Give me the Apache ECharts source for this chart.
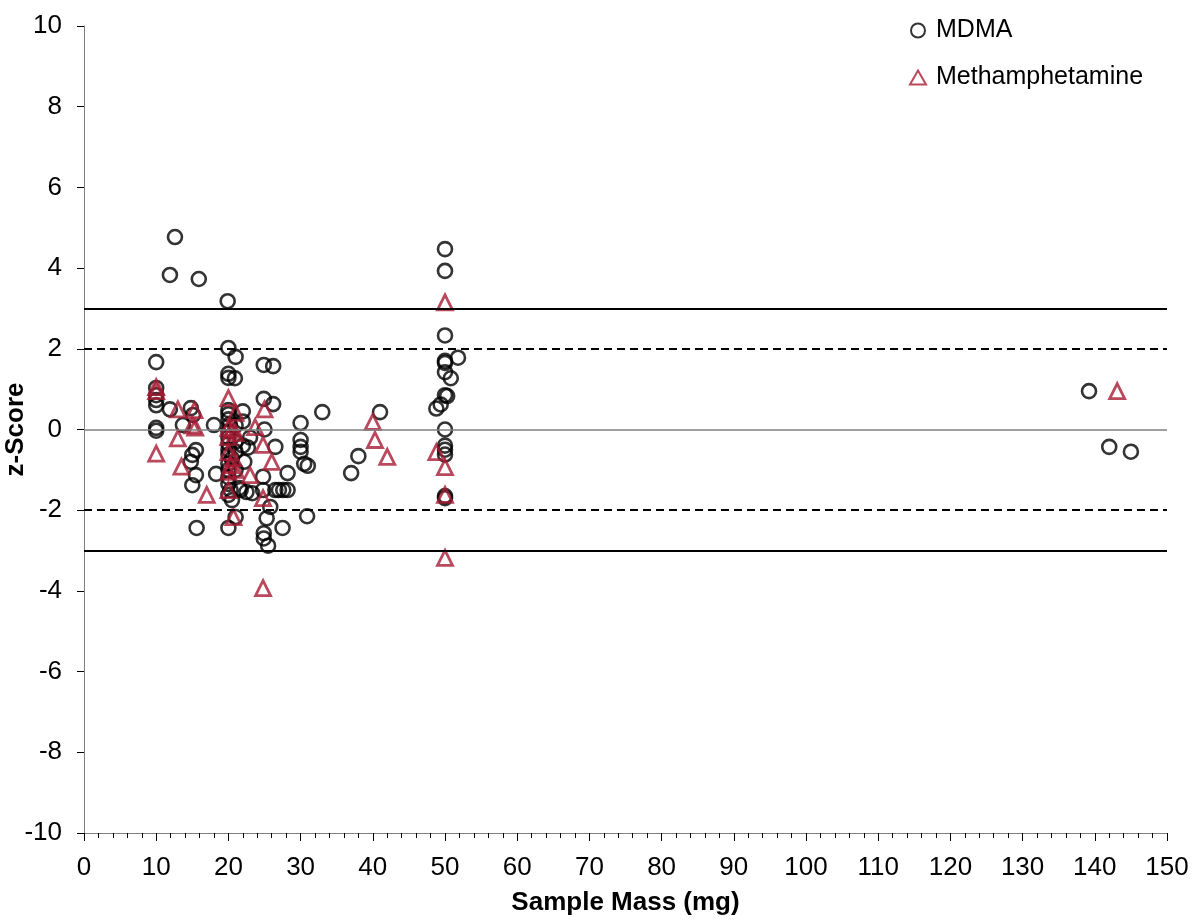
<!DOCTYPE html>
<html>
<head>
<meta charset="utf-8">
<script src="https://cdn.jsdelivr.net/npm/echarts@6/dist/echarts.min.js"></script>
<style>
  html, body { margin: 0; padding: 0; background: #fff; }
  #chart { width: 1194px; height: 924px; }
</style>
</head>
<body>
<div id="chart"></div>
<script>
// [sample mass (mg), z-score]
const mdma = [
  [12.6, 4.77], [11.9, 3.83], [15.9, 3.73], [19.9, 3.18],
  [10, 1.67], [10, 1.03], [10, 0.85], [10, 0.73], [10, 0.6], [10, 0.04], [10, -0.03],
  [11.9, 0.5], [13.7, 0.11], [14.8, 0.53], [15.1, 0.36],
  [15.5, -0.51], [15, -0.63], [14.8, -0.8], [15.5, -1.13], [15, -1.38], [15.6, -2.44],
  [18, 0.11], [18.3, -1.1],
  [20, 2.02], [21, 1.8], [20, 1.38], [20, 1.28], [20.9, 1.27],
  [20, 0.48], [20, 0.38], [20, 0.25], [20.2, 0.12], [20, -0.05], [20, -0.2], [20, -0.35],
  [20, -0.5], [20, -0.62], [20.5, -0.72], [20, -0.85], [20, -1.0], [20, -1.18], [20, -1.35],
  [20.3, -1.5], [20, -1.62], [20.5, -1.75], [20, -2.44],
  [21, -0.3], [21, -0.55], [21, -1.0], [21.5, -1.45], [21, 0.1], [21, -2.17],
  [22, 0.45], [22, 0.2], [22, -0.4], [22.2, -0.8], [22.5, -1.55], [21.7, -1.5],
  [22.7, -0.45], [23, -0.2], [23.3, -1.58],
  [24.9, 1.6], [26.2, 1.57], [24.9, 0.76], [26.2, 0.63], [25, 0], [26.5, -0.43],
  [24.8, -1.17], [24.8, -1.5], [25.3, -2.2], [25.8, -1.92], [24.9, -2.57], [24.9, -2.7],
  [25.5, -2.88], [27.5, -2.44],
  [26.5, -1.5], [27, -1.5], [27.6, -1.5], [28.2, -1.5], [28.2, -1.08],
  [30, 0.16], [30, -0.26], [30, -0.43], [30, -0.55], [30.5, -0.85], [31, -0.9], [30.9, -2.15],
  [33, 0.43], [37, -1.08], [38, -0.66], [41, 0.43],
  [50, 4.47], [50, 3.93], [50, 2.33], [50, 1.7], [50, 1.65], [51.8, 1.78], [50, 1.42],
  [50.8, 1.27], [50, 0.85], [50.3, 0.83], [49.4, 0.62], [48.8, 0.52], [50, 0],
  [50, -0.4], [50, -0.5], [50, -0.62], [50, -1.65], [50, -1.7],
  [139.2, 0.95], [142, -0.43], [145, -0.55]
];

const meth = [
  [10, 1.05], [10, 0.95], [10, -0.6], [13, 0.5], [13, -0.22], [13.5, -0.92],
  [15.3, 0.48], [15, 0.1], [15.4, 0.05], [17, -1.62],
  [20, 0.78], [21, 0.41], [20, 0.04], [20.5, -0.01], [21, -0.09], [20, -0.19],
  [20, -0.56], [20.7, -0.71], [20.3, -0.88], [21, -1.0], [20, -1.05], [20, -1.5], [20.7, -2.17],
  [23.7, 0.06], [25, 0.5], [24.8, -0.38], [26, -0.8], [23, -1.13], [24.8, -1.7], [24.8, -3.93],
  [40, 0.19], [40.3, -0.26], [42, -0.68],
  [50, 3.15], [48.8, -0.56], [50, -0.93], [50, -1.62], [50, -3.18],
  [143.1, 0.95]
];

// reference lines
const limitLines = [3, -3];
const warnLines = [2, -2];

const font = 'Liberation Sans, Arial, sans-serif';
const red = '#a81c33';

const chart = echarts.init(document.getElementById('chart'));

chart.setOption({
  animation: false,
  textStyle: { fontFamily: font },
  grid: { left: 84, right: 27, top: 26, bottom: 91, outerBoundsMode: 'none', containLabel: false },
  legend: {
    orient: 'vertical',
    left: 904,
    top: 13,
    itemWidth: 16,
    itemHeight: 14,
    itemGap: 22,
    textStyle: { fontSize: 25, color: '#000', fontFamily: font, padding: [0, 0, 0, 5] },
    data: ['MDMA', 'Methamphetamine']
  },
  xAxis: {
    type: 'value',
    min: 0,
    max: 150,
    interval: 10,
    name: 'Sample Mass (mg)',
    nameLocation: 'middle',
    nameGap: 57,
    nameMoveOverlap: false,
    nameTextStyle: { fontSize: 26, fontWeight: 'bold', color: '#000', fontFamily: font },
    axisLine: { onZero: false, lineStyle: { color: '#808080', width: 1 } },
    axisTick: { length: 8, lineStyle: { color: '#000' } },
    minorTick: { show: true, splitNumber: 5, length: 5, lineStyle: { color: '#000' } },
    axisLabel: { fontSize: 26, color: '#000', margin: 22, fontFamily: font },
    splitLine: { show: false }
  },
  yAxis: {
    type: 'value',
    min: -10,
    max: 10,
    interval: 2,
    name: 'z-Score',
    nameLocation: 'middle',
    nameGap: 55,
    nameMoveOverlap: false,
    nameTextStyle: { fontSize: 26, fontWeight: 'bold', color: '#000', fontFamily: font },
    axisLine: { show: true, onZero: false, lineStyle: { color: '#808080', width: 1 } },
    axisTick: { show: true, length: 7, lineStyle: { color: '#000' } },
    axisLabel: { fontSize: 26, color: '#000', margin: 22, fontFamily: font },
    splitLine: { show: false }
  },
  series: [
    {
      name: 'lines',
      type: 'line',
      data: [],
      silent: true,
      markLine: {
        silent: true,
        symbol: 'none',
        label: { show: false },
        data: [
          { yAxis: 0, lineStyle: { color: '#808080', width: 1.5, type: 'solid' } },
          ...limitLines.map(v => ({ yAxis: v, lineStyle: { color: '#000', width: 2.2, type: 'solid' } })),
          ...warnLines.map(v => ({ yAxis: v, lineStyle: { color: '#000', width: 2.2, type: [8, 5] } }))
        ]
      }
    },
    {
      name: 'MDMA',
      type: 'scatter',
      data: mdma,
      symbol: 'circle',
      symbolSize: 14,
      itemStyle: { color: 'rgba(0,0,0,0)', borderColor: '#000', borderWidth: 2.6 }
    },
    {
      name: 'Methamphetamine',
      type: 'scatter',
      data: meth,
      symbol: 'triangle',
      symbolSize: 15,
      itemStyle: { color: 'rgba(0,0,0,0)', borderColor: red, borderWidth: 2.8 }
    }
  ]
});
</script>
</body>
</html>
